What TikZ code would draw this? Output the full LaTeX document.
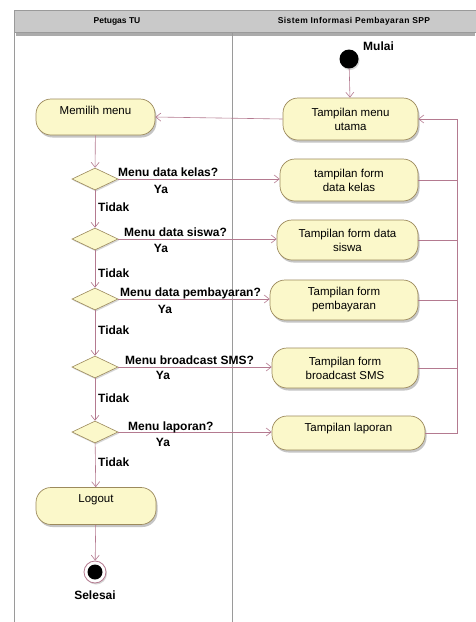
\documentclass[tikz,border=0pt]{standalone}
\usepackage{fontspec}
\setmainfont{Liberation Sans}
\usetikzlibrary{shapes.geometric,arrows.meta,shadows,calc}
\definecolor{boxfill}{HTML}{FBF8CA}
\definecolor{boxline}{HTML}{9C8A5C}
\definecolor{arrowc}{HTML}{B47A90}
\definecolor{lanec}{HTML}{9A9A9A}
\definecolor{headfill}{HTML}{C9C9C9}
\tikzset{
  actbox/.style={draw=boxline, fill=boxfill, line width=0.7pt, rounded corners=15pt,
    align=center, inner sep=0pt, font=\fontsize{11.5}{14}\selectfont,
    drop shadow={shadow xshift=1.5pt, shadow yshift=-2.5pt, fill=black!45, opacity=0.5}},
  decis/.style={draw=boxline, fill=boxfill, line width=0.6pt, diamond, inner sep=0pt,
    minimum width=46pt, minimum height=22pt,
    drop shadow={shadow xshift=1pt, shadow yshift=-1.5pt, fill=black!40, opacity=0.4}},
  flow/.style={draw=arrowc, line width=0.6pt, -{Straight Barb[length=5pt,width=8pt]}},
  plainflow/.style={draw=arrowc, line width=0.6pt},
  lbl/.style={font=\fontsize{12}{14}\selectfont\bfseries, inner sep=0pt},
  hdr/.style={font=\fontsize{8.5}{10}\selectfont\bfseries, inner sep=0pt}
}
\begin{document}
\begin{tikzpicture}[x=1pt,y=-1pt]
\useasboundingbox (0,0) rectangle (475,622);
\fill[white] (0,0) rectangle (475,622);
% swimlanes
\fill[black!60, opacity=0.55] (16,32) rectangle (475,36);
\draw[lanec, fill=headfill, line width=0.6pt] (14,10) rectangle (477,32);
\draw[lanec, line width=0.8pt] (14,10) -- (14,622);
\draw[lanec, line width=0.6pt] (232,32) -- (232,622);
\node[hdr] (h1) at (117,21) {Petugas TU};
\node[hdr] (h2) at (354,21) {\addfontfeature{LetterSpace=5}Sistem Informasi Pembayaran SPP};
% start
\node[circle, fill=black, minimum size=19pt, inner sep=0pt,
  drop shadow={shadow xshift=1pt, shadow yshift=-1.5pt, fill=black!40, opacity=0.4}] (start) at (349,59) {};
\node[lbl, anchor=west] (mulai) at (363,46) {Mulai};
% system boxes
\node[actbox, minimum width=135pt, minimum height=42pt] (utama) at (350.5,119) {Tampilan menu\\utama};
\node[actbox, minimum width=138pt, minimum height=42pt] (kelas) at (349,180) {tampilan form\\data kelas};
\node[actbox, minimum width=141pt, minimum height=40pt] (siswa) at (347.5,240) {Tampilan form data\\siswa};
\node[actbox, minimum width=148pt, minimum height=40pt] (bayar) at (344,300) {Tampilan form\\pembayaran};
\node[actbox, minimum width=146pt, minimum height=40pt] (sms) at (345,368) {Tampilan form\\broadcast SMS};
\node[actbox, minimum width=153pt, minimum height=34pt] (lapor) at (348.5,433) {Tampilan laporan\\[-2pt]~};
% user boxes
\node[actbox, minimum width=119pt, minimum height=36pt] (pilih) at (95.5,117) {Memilih menu\\~};
\node[actbox, minimum width=120pt, minimum height=37pt] (logout) at (96,506) {Logout\\~};
% decisions
\node[decis] (d1) at (95,179) {};
\node[decis] (d2) at (95,239) {};
\node[decis] (d3) at (95,299) {};
\node[decis] (d4) at (95,367) {};
\node[decis] (d5) at (95,432) {};
% end
\node[circle, draw=arrowc, line width=0.8pt, fill=white, minimum size=22pt, inner sep=0pt,
  drop shadow={shadow xshift=1pt, shadow yshift=-1.5pt, fill=black!40, opacity=0.4}] (endo) at (95,572) {};
\node[circle, fill=black, minimum size=15pt, inner sep=0pt] (endi) at (95,572) {};
\node[lbl] (selesai) at (95,595) {Selesai};
% flows
\draw[flow] (start) -- (utama);
\draw[flow] (utama.west) -- (pilih.east);
\draw[flow] (pilih) -- (d1);
\draw[flow] (d1) -- (d2);
\draw[flow] (d2) -- (d3);
\draw[flow] (d3) -- (d4);
\draw[flow] (d4) -- (d5);
\draw[flow] (d5) -- (logout);
\draw[flow] (logout) -- (endo);
\draw[flow] (d1.east) -- (d1.east -| kelas.west);
\draw[flow] (d2.east) -- (d2.east -| siswa.west);
\draw[flow] (d3.east) -- (d3.east -| bayar.west);
\draw[flow] (d4.east) -- (d4.east -| sms.west);
\draw[flow] (d5.east) -- (d5.east -| lapor.west);
% loop back
\coordinate (rtop) at (457,119);
\coordinate (rbot) at (457,433);
\draw[plainflow] (kelas.east) -- (kelas.east -| rtop);
\draw[plainflow] (siswa.east) -- (siswa.east -| rtop);
\draw[plainflow] (bayar.east) -- (bayar.east -| rtop);
\draw[plainflow] (sms.east) -- (sms.east -| rtop);
\draw[plainflow] (lapor.east) -- (rbot) -- (rtop);
\draw[flow] (rtop) -- (utama.east);
% labels
\node[lbl, anchor=west] (q1) at (118,172) {Menu data kelas?};
\node[lbl] (y1) at (161,189) {Ya};
\node[lbl, anchor=west] (t1) at (98,207) {Tidak};
\node[lbl, anchor=west] (q2) at (124,232) {Menu data siswa?};
\node[lbl] (y2) at (161,248) {Ya};
\node[lbl, anchor=west] (t2) at (98,273) {Tidak};
\node[lbl, anchor=west] (q3) at (120,293) {Menu data pembayaran?};
\node[lbl] (y3) at (165,309) {Ya};
\node[lbl, anchor=west] (t3) at (98,330) {Tidak};
\node[lbl, anchor=west] (q4) at (125,360) {Menu broadcast SMS?};
\node[lbl] (y4) at (163,375) {Ya};
\node[lbl, anchor=west] (t4) at (98,398) {Tidak};
\node[lbl, anchor=west] (q5) at (128,427) {Menu laporan?};
\node[lbl] (y5) at (163,442) {Ya};
\node[lbl, anchor=west] (t5) at (98,462) {Tidak};
\end{tikzpicture}
\end{document}
